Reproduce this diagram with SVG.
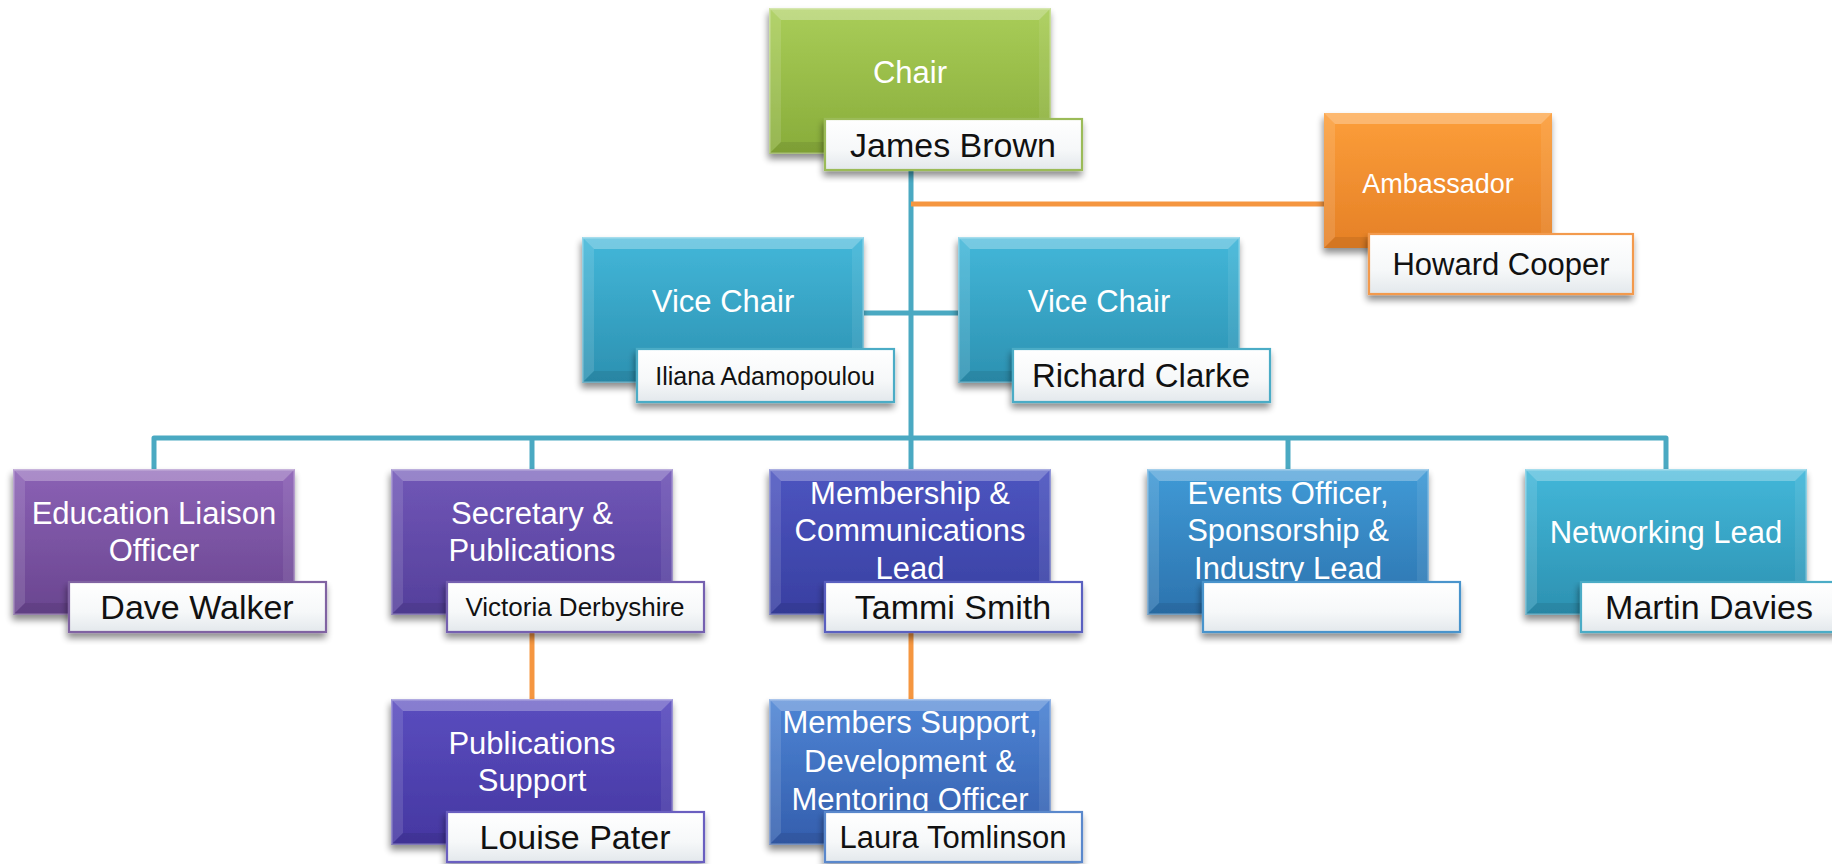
<svg xmlns="http://www.w3.org/2000/svg" width="1832" height="864" viewBox="0 0 1832 864">
<style>
.t{fill:#fff;font-family:"Liberation Sans",Arial,sans-serif;font-size:31px;text-anchor:middle}
.n{fill:#111;font-family:"Liberation Sans",Arial,sans-serif;font-size:34px;text-anchor:middle}
.nb{fill:url(#gW);stroke-width:2.2}
.blue{fill:none;stroke:#4aa9c2;stroke-width:5;stroke-linejoin:round;stroke-linecap:butt}
.org{fill:none;stroke:#f59640;stroke-width:5}
.sh{filter:url(#shadow)}
</style>
<defs>
<filter id="shadow" x="-10%" y="-10%" width="125%" height="135%">
<feGaussianBlur in="SourceAlpha" stdDeviation="3.5"/>
<feOffset dx="-1" dy="5" result="o"/>
<feComponentTransfer><feFuncA type="linear" slope="0.45"/></feComponentTransfer>
<feMerge><feMergeNode/><feMergeNode in="SourceGraphic"/></feMerge>
</filter>
<linearGradient id="gGreen" x1="0" y1="0" x2="0" y2="1"><stop offset="0" stop-color="#a9cd58"/><stop offset="1" stop-color="#88ac3a"/></linearGradient>
<linearGradient id="gOrange" x1="0" y1="0" x2="0" y2="1"><stop offset="0" stop-color="#fc9e3a"/><stop offset="1" stop-color="#e58026"/></linearGradient>
<linearGradient id="gTeal" x1="0" y1="0" x2="0" y2="1"><stop offset="0" stop-color="#43b7d9"/><stop offset="1" stop-color="#2c91b1"/></linearGradient>
<linearGradient id="gPurple" x1="0" y1="0" x2="0" y2="1"><stop offset="0" stop-color="#8b61b5"/><stop offset="1" stop-color="#69458f"/></linearGradient>
<linearGradient id="gViolet" x1="0" y1="0" x2="0" y2="1"><stop offset="0" stop-color="#7157b7"/><stop offset="1" stop-color="#543f9b"/></linearGradient>
<linearGradient id="gIndigo" x1="0" y1="0" x2="0" y2="1"><stop offset="0" stop-color="#5a4dbf"/><stop offset="1" stop-color="#4537a1"/></linearGradient>
<linearGradient id="gMember" x1="0" y1="0" x2="0" y2="1"><stop offset="0" stop-color="#4d55c0"/><stop offset="1" stop-color="#383fa1"/></linearGradient>
<linearGradient id="gBlue" x1="0" y1="0" x2="0" y2="1"><stop offset="0" stop-color="#4d84d4"/><stop offset="1" stop-color="#345ead"/></linearGradient>
<linearGradient id="gSteel" x1="0" y1="0" x2="0" y2="1"><stop offset="0" stop-color="#409ad6"/><stop offset="1" stop-color="#2c73ae"/></linearGradient>
<linearGradient id="gW" x1="0" y1="0" x2="0" y2="1"><stop offset="0" stop-color="#ffffff"/><stop offset="0.6" stop-color="#f6f8f9"/><stop offset="1" stop-color="#e3e8ec"/></linearGradient>
<g id="bevel">
<polygon points="0,0 282,0 270,12 12,12" fill="#fff" fill-opacity="0.28"/>
<polygon points="0,0 12,12 12,134 0,146" fill="#fff" fill-opacity="0.12"/>
<polygon points="282,0 282,146 270,134 270,12" fill="#fff" fill-opacity="0.08"/>
<polygon points="0,146 12,134 270,134 282,146" fill="#000" fill-opacity="0.08"/>
<rect x="0.75" y="0.75" width="280.5" height="144.5" fill="none" stroke="#fff" stroke-opacity="0.35" stroke-width="1.5"/>
</g>
</defs>
<rect width="1832" height="864" fill="#fff"/>

<g id="connectors">
<path class="blue" d="M911 168 V438"/>
<path class="blue" d="M863 313 H960"/>
<path class="blue" d="M154 471 V438 H1666 V471"/>
<path class="blue" d="M532 438 V471"/>
<path class="blue" d="M911 438 V471"/>
<path class="blue" d="M1288 438 V471"/>
<path class="org" d="M911 204 H1326"/>
<path class="org" d="M532 630 V701"/>
<path class="org" d="M911 630 V701"/>
</g>

<g id="chair">
<g class="sh" transform="translate(769,8)"><rect width="282" height="146" fill="url(#gGreen)"/><use href="#bevel"/></g>
<text class="t" x="910" y="83">Chair</text>
<rect class="nb sh" x="825" y="119" width="257" height="51" stroke="#9bbb59"/>
<text class="n" x="953" y="157">James Brown</text>
</g>

<g id="ambassador">
<g class="sh" transform="translate(1324,113)"><rect width="228" height="135" fill="url(#gOrange)"/>
<polygon points="0,0 228,0 217,11 11,11" fill="#fff" fill-opacity="0.28"/>
<polygon points="0,0 11,11 11,124 0,135" fill="#fff" fill-opacity="0.12"/>
<polygon points="228,0 228,135 217,124 217,11" fill="#fff" fill-opacity="0.08"/>
<polygon points="0,135 11,124 217,124 228,135" fill="#000" fill-opacity="0.08"/>
</g>
<text class="t" x="1438" y="193" style="font-size:27px">Ambassador</text>
<rect class="nb sh" x="1369" y="234" width="264" height="60" stroke="#f39a4e"/>
<text class="n" x="1501" y="275" style="font-size:31px">Howard Cooper</text>
</g>

<g id="vice-chair-1">
<g class="sh" transform="translate(582,237)"><rect width="282" height="146" fill="url(#gTeal)"/><use href="#bevel"/></g>
<text class="t" x="723" y="312">Vice Chair</text>
<rect class="nb sh" x="637" y="349" width="257" height="53" stroke="#4bacc6"/>
<text class="n" x="765" y="385" style="font-size:25px">Iliana Adamopoulou</text>
</g>

<g id="vice-chair-2">
<g class="sh" transform="translate(958,237)"><rect width="282" height="146" fill="url(#gTeal)"/><use href="#bevel"/></g>
<text class="t" x="1099" y="312">Vice Chair</text>
<rect class="nb sh" x="1013" y="349" width="257" height="53" stroke="#4bacc6"/>
<text class="n" x="1141" y="387" style="font-size:33px">Richard Clarke</text>
</g>

<g id="education">
<g class="sh" transform="translate(13,469)"><rect width="282" height="146" fill="url(#gPurple)"/><use href="#bevel"/></g>
<text class="t" x="154" y="524">Education Liaison</text>
<text class="t" x="154" y="561">Officer</text>
<rect class="nb sh" x="69" y="582" width="257" height="50" stroke="#8064a2"/>
<text class="n" x="197" y="619">Dave Walker</text>
</g>

<g id="secretary">
<g class="sh" transform="translate(391,469)"><rect width="282" height="146" fill="url(#gViolet)"/><use href="#bevel"/></g>
<text class="t" x="532" y="524">Secretary &amp;</text>
<text class="t" x="532" y="561">Publications</text>
<rect class="nb sh" x="447" y="582" width="257" height="50" stroke="#7560b0"/>
<text class="n" x="575" y="616" style="font-size:26px">Victoria Derbyshire</text>
</g>

<g id="membership">
<g class="sh" transform="translate(769,469)"><rect width="282" height="146" fill="url(#gMember)"/><use href="#bevel"/></g>
<text class="t" x="910" y="504">Membership &amp;</text>
<text class="t" x="910" y="541">Communications</text>
<text class="t" x="910" y="579">Lead</text>
<rect class="nb sh" x="825" y="582" width="257" height="50" stroke="#5a60c0"/>
<text class="n" x="953" y="619">Tammi Smith</text>
</g>

<g id="events">
<g class="sh" transform="translate(1147,469)"><rect width="282" height="146" fill="url(#gSteel)"/><use href="#bevel"/></g>
<text class="t" x="1288" y="504">Events Officer,</text>
<text class="t" x="1288" y="541">Sponsorship &amp;</text>
<text class="t" x="1288" y="579">Industry Lead</text>
<rect class="nb sh" x="1203" y="582" width="257" height="50" stroke="#4a94cc"/>
</g>

<g id="networking">
<g class="sh" transform="translate(1525,469)"><rect width="282" height="146" fill="url(#gTeal)"/><use href="#bevel"/></g>
<text class="t" x="1666" y="543">Networking Lead</text>
<rect class="nb sh" x="1581" y="582" width="257" height="50" stroke="#4bacc6"/>
<text class="n" x="1709" y="619">Martin Davies</text>
</g>

<g id="publications-support">
<g class="sh" transform="translate(391,699)"><rect width="282" height="146" fill="url(#gIndigo)"/><use href="#bevel"/></g>
<text class="t" x="532" y="754">Publications</text>
<text class="t" x="532" y="791">Support</text>
<rect class="nb sh" x="447" y="812" width="257" height="50" stroke="#6a5ec0"/>
<text class="n" x="575" y="849">Louise Pater</text>
</g>

<g id="members-support">
<g class="sh" transform="translate(769,699)"><rect width="282" height="146" fill="url(#gBlue)"/><use href="#bevel"/></g>
<text class="t" x="910" y="733">Members Support,</text>
<text class="t" x="910" y="772">Development &amp;</text>
<text class="t" x="910" y="810">Mentoring Officer</text>
<rect class="nb sh" x="825" y="812" width="257" height="50" stroke="#5a88cc"/>
<text class="n" x="953" y="848" style="font-size:31px">Laura Tomlinson</text>
</g>
</svg>
